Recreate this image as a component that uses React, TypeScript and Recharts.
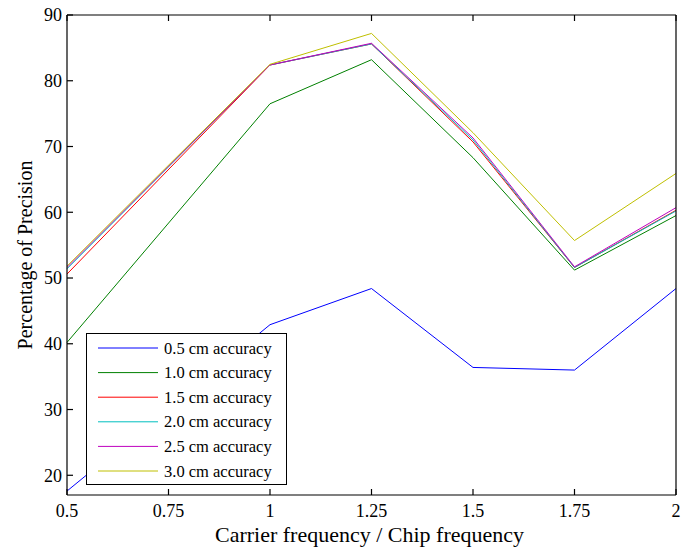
import { LineChart, Line, XAxis, YAxis, Legend } from 'recharts';

const xValues = [0.5, 1, 1.25, 1.5, 1.75, 2];
const acc05 = [17.6, 42.9, 48.4, 36.4, 36.0, 48.4];
const acc10 = [40.2, 76.5, 83.2, 68.3, 51.2, 59.5];
const acc15 = [50.6, 82.4, 85.6, 70.7, 51.6, 60.3];
const acc20 = [51.4, 82.4, 85.6, 71.0, 51.6, 60.2];
const acc25 = [51.6, 82.4, 85.7, 71.3, 51.7, 60.7];
const acc30 = [51.8, 82.5, 87.2, 72.1, 55.7, 65.9];

const xTicks = [0.5, 0.75, 1, 1.25, 1.5, 1.75, 2];
const yTicks = [20, 30, 40, 50, 60, 70, 80, 90];

const seriesNames = [
  '0.5 cm accuracy',
  '1.0 cm accuracy',
  '1.5 cm accuracy',
  '2.0 cm accuracy',
  '2.5 cm accuracy',
  '3.0 cm accuracy',
];
const seriesValues = [acc05, acc10, acc15, acc20, acc25, acc30];
const COLORS = ['#0000ff', '#008000', '#ff0000', '#00bfbf', '#bf00bf', '#bfbf00'];

const data = xValues.map((x, i) => {
  const row: Record<string, number> = { x };
  seriesNames.forEach((name, s) => {
    row[name] = seriesValues[s][i];
  });
  return row;
});

const FONT = '"Liberation Serif", "Times New Roman", serif';

const renderLegend = (props: any) => {
  const items = props.payload || [];
  return (
    <svg width={199} height={150} style={{ display: 'block' }}>
      {items.map((item: any, i: number) => {
        const cy = 14 + i * 24.6;
        return (
          <g key={`leg-${i}`}>
            <line x1={11} x2={71} y1={cy} y2={cy} stroke={item.color} strokeWidth={1} />
            <text
              x={77}
              y={cy}
              dominantBaseline="central"
              fontFamily={FONT}
              fontSize={16.5}
              fill="#000"
            >
              {item.value}
            </text>
          </g>
        );
      })}
    </svg>
  );
};

const App = () => (
  <div style={{ position: 'absolute', left: 0, top: 0, background: '#fff' }}>
    <LineChart width={695} height={549} data={data} margin={{ top: 0, right: 0, bottom: 0, left: 0 }}>
      <XAxis
        dataKey="x"
        type="number"
        domain={[0.5, 2]}
        ticks={xTicks}
        height={54}
        stroke="#000"
        strokeWidth={1.2}
        tickSize={-6}
        tickMargin={15}
        tick={{ fill: '#000', fontFamily: FONT, fontSize: 18 }}
        label={{
          content: ({ viewBox }: any) => (
            <text
              x={viewBox.x + viewBox.width / 2 - 2}
              y={viewBox.y + 47}
              textAnchor="middle"
              fontFamily={FONT}
              fontSize={21}
              textLength={309}
              lengthAdjust="spacingAndGlyphs"
              fill="#000"
            >
              Carrier frequency / Chip frequency
            </text>
          ),
        }}
      />
      <XAxis
        xAxisId="top"
        dataKey="x"
        type="number"
        orientation="top"
        domain={[0.5, 2]}
        ticks={xTicks}
        height={15}
        stroke="#000"
        strokeWidth={1.2}
        tickSize={-6}
        tickFormatter={() => ''}
      />
      <YAxis
        type="number"
        domain={[17, 90]}
        ticks={yTicks}
        width={67}
        stroke="#000"
        strokeWidth={1.2}
        tickSize={-6}
        tickMargin={11}
        tick={{ fill: '#000', fontFamily: FONT, fontSize: 18 }}
        label={{
          content: ({ viewBox }: any) => {
            const cx = viewBox.x + 25;
            const cy = viewBox.y + viewBox.height / 2;
            return (
              <text
                x={cx}
                y={cy}
                textAnchor="middle"
                dominantBaseline="central"
                transform={`rotate(-90, ${cx}, ${cy})`}
                fontFamily={FONT}
                fontSize={20}
                fill="#000"
              >
                Percentage of Precision
              </text>
            );
          },
        }}
      />
      <YAxis
        yAxisId="right"
        type="number"
        orientation="right"
        domain={[17, 90]}
        ticks={yTicks}
        width={19}
        stroke="#000"
        strokeWidth={1.2}
        tickSize={-6}
        tickFormatter={() => ''}
      />
      {seriesNames.map((name, i) => (
        <Line
          key={name}
          dataKey={name}
          name={name}
          stroke={COLORS[i]}
          strokeWidth={1}
          dot={false}
          activeDot={false}
          isAnimationActive={false}
        />
      ))}
      <Legend
        content={renderLegend}
        layout="vertical"
        align="center"
        verticalAlign="middle"
        wrapperStyle={{
          left: 86,
          top: 333,
          width: 201,
          height: 152,
          border: '1px solid #000',
          boxSizing: 'border-box',
          background: '#fff',
        }}
      />
    </LineChart>
  </div>
);

export default App;
